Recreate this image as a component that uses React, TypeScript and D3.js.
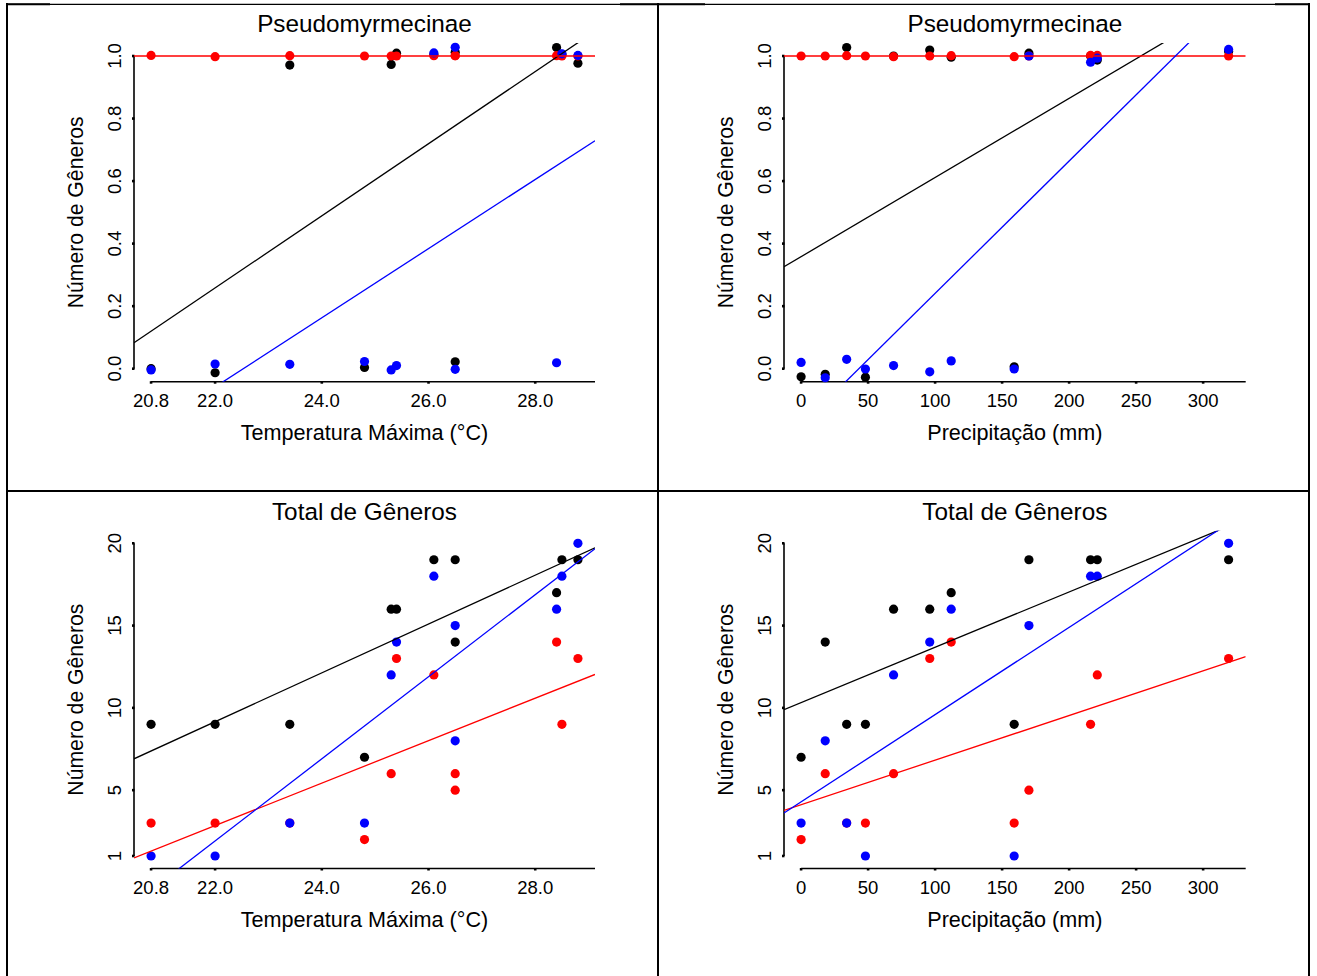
import React from "react";
import * as d3 from "d3";

// ---- data ----
const TEMP = [20.8, 22.0, 23.4, 24.8, 25.3, 25.4, 26.1, 26.5, 26.5, 28.4, 28.5, 28.8];
const PRECIP = [0, 18, 34, 48, 69, 96, 112, 159, 170, 216, 221, 319];

// Pseudomyrmecinae presence (jittered as drawn)
const pseudoTempBlack = [0.0, -0.013, 0.971, 0.004, 0.973, 1.009, 1.005, 1.012, 0.022, 1.027, 1.005, 0.977];
const pseudoTempRed = [1.002, 0.998, 1.001, 1.0, 1.0, 1.0, 1.001, 1.001, 1.001, 1.001, 1.0, 1.0];
const pseudoTempBlue = [-0.004, 0.015, 0.014, 0.023, -0.004, 0.01, 1.01, 1.028, -0.002, 0.019, 1.007, 1.002];

const pseudoPrecBlack = [-0.026, -0.018, 1.027, -0.027, 1.0, 1.019, 0.996, 0.006, 1.009, 1.0, 0.987, 1.015];
const pseudoPrecRed = [1.0, 1.0, 1.001, 1.0, 0.998, 1.0, 1.001, 0.998, 1.0, 1.002, 1.002, 1.0];
const pseudoPrecBlue = [0.02, -0.029, 0.03, -0.001, 0.01, -0.01, 0.025, -0.001, 1.0, 0.98, 0.993, 1.021];

// Total de Gêneros
const totalTempBlack = [9, 9, 9, 7, 16, 16, 19, 19, 14, 17, 19, 19];
const totalTempRed = [3, 3, 3, 2, 6, 13, 12, 5, 6, 14, 9, 13];
const totalTempBlue = [1, 1, 3, 3, 12, 14, 18, 15, 8, 16, 18, 20];

const totalPrecBlack = [7, 14, 9, 9, 16, 16, 17, 9, 19, 19, 19, 19];
const totalPrecRed = [2, 6, 3, 3, 6, 13, 14, 3, 5, 9, 12, 13];
const totalPrecBlue = [3, 8, 3, 1, 12, 14, 16, 1, 15, 18, 18, 20];

// ticks
const tempTicks = [20.8, 22.0, 24.0, 26.0, 28.0];
const tempTickLabels = ["20.8", "22.0", "24.0", "26.0", "28.0"];
const precTicks = [0, 50, 100, 150, 200, 250, 300];
const precTickLabels = ["0", "50", "100", "150", "200", "250", "300"];
const pseudoTicks = [0, 0.2, 0.4, 0.6, 0.8, 1.0];
const pseudoTickLabels = ["0.0", "0.2", "0.4", "0.6", "0.8", "1.0"];
const totalTicks = [1, 5, 10, 15, 20];
const totalTickLabels = ["1", "5", "10", "15", "20"];

const TITLES = ["Pseudomyrmecinae", "Pseudomyrmecinae", "Total de Gêneros", "Total de Gêneros"];
const XLABELS = ["Temperatura Máxima (°C)", "Precipitação (mm)"];
const YLABEL = "Número de Gêneros";

const COLORS = { black: "#000000", red: "#FF0000", blue: "#0000FF" };
const FONT = "'Liberation Sans', Arial, Helvetica, sans-serif";

function lm(x: number[], y: number[]) {
  const mx = d3.mean(x)!;
  const my = d3.mean(y)!;
  let sxy = 0, sxx = 0;
  x.forEach((v, i) => {
    sxy += (v - mx) * (y[i] - my);
    sxx += (v - mx) * (v - mx);
  });
  const b = sxx === 0 ? 0 : sxy / sxx;
  return { a: my - b * mx, b };
}

type Series = { color: string; y: number[] };
type PanelDef = {
  id: string;
  left: number; top: number; width: number; height: number;
  title: string; xlabel: string;
  x: number[]; xdom: [number, number]; xticks: number[]; xlabels: string[];
  ydom: [number, number]; yticks: number[]; ylabels: string[];
  series: Series[];
  roundForFit: boolean;
};

const PANELS: PanelDef[] = [
  {
    id: "p1", left: 134, top: 43, width: 461, height: 338.7,
    title: TITLES[0], xlabel: XLABELS[0],
    x: TEMP, xdom: [20.48, 29.12], xticks: tempTicks, xlabels: tempTickLabels,
    ydom: [-0.0416, 1.0416], yticks: pseudoTicks, ylabels: pseudoTickLabels,
    series: [
      { color: COLORS.black, y: pseudoTempBlack },
      { color: COLORS.red, y: pseudoTempRed },
      { color: COLORS.blue, y: pseudoTempBlue },
    ],
    roundForFit: true,
  },
  {
    id: "p2", left: 784, top: 43, width: 461.7, height: 338.7,
    title: TITLES[1], xlabel: XLABELS[1],
    x: PRECIP, xdom: [-12.76, 331.76], xticks: precTicks, xlabels: precTickLabels,
    ydom: [-0.0416, 1.0416], yticks: pseudoTicks, ylabels: pseudoTickLabels,
    series: [
      { color: COLORS.black, y: pseudoPrecBlack },
      { color: COLORS.red, y: pseudoPrecRed },
      { color: COLORS.blue, y: pseudoPrecBlue },
    ],
    roundForFit: true,
  },
  {
    id: "p3", left: 134, top: 530.8, width: 461, height: 337.7,
    title: TITLES[2], xlabel: XLABELS[0],
    x: TEMP, xdom: [20.48, 29.12], xticks: tempTicks, xlabels: tempTickLabels,
    ydom: [0.24, 20.76], yticks: totalTicks, ylabels: totalTickLabels,
    series: [
      { color: COLORS.black, y: totalTempBlack },
      { color: COLORS.red, y: totalTempRed },
      { color: COLORS.blue, y: totalTempBlue },
    ],
    roundForFit: false,
  },
  {
    id: "p4", left: 784, top: 530.8, width: 461.7, height: 337.7,
    title: TITLES[3], xlabel: XLABELS[1],
    x: PRECIP, xdom: [-12.76, 331.76], xticks: precTicks, xlabels: precTickLabels,
    ydom: [0.24, 20.76], yticks: totalTicks, ylabels: totalTickLabels,
    series: [
      { color: COLORS.black, y: totalPrecBlack },
      { color: COLORS.red, y: totalPrecRed },
      { color: COLORS.blue, y: totalPrecBlue },
    ],
    roundForFit: false,
  },
];

function Panel({ p }: { p: PanelDef }) {
  const xs = d3.scaleLinear().domain(p.xdom).range([p.left, p.left + p.width]);
  const ys = d3.scaleLinear().domain(p.ydom).range([p.top + p.height, p.top]);
  const axisY = p.top + p.height;
  const axisX = p.left;
  const cx = p.left + p.width / 2;
  const cy = p.top + p.height / 2;
  return (
    <g>
      <defs>
        <clipPath id={"clip-" + p.id}>
          <rect x={p.left} y={p.top} width={p.width} height={p.height} />
        </clipPath>
      </defs>
      {/* title */}
      <text x={cx} y={p.top - 11} textAnchor="middle" fontSize={24.3} fontFamily={FONT} fill="#000">
        {p.title}
      </text>
      {/* x axis */}
      <line x1={xs(p.xticks[0])} x2={p.left + p.width} y1={axisY} y2={axisY} stroke="#000" strokeWidth={1.6} />
      {p.xticks.map((t, i) => (
        <g key={"xt" + i}>
          <line x1={xs(t)} x2={xs(t)} y1={axisY - 0.5} y2={axisY + 2} stroke="#000" strokeWidth={2.6} />
          <text x={xs(t)} y={axisY + 25.5} textAnchor="middle" fontSize={18.5} fontFamily={FONT} fill="#000">
            {p.xlabels[i]}
          </text>
        </g>
      ))}
      <text x={cx} y={axisY + 58} textAnchor="middle" fontSize={21.6} fontFamily={FONT} fill="#000">
        {p.xlabel}
      </text>
      {/* y axis */}
      <line x1={axisX} x2={axisX} y1={ys(p.yticks[0])} y2={ys(p.yticks[p.yticks.length - 1])} stroke="#000" strokeWidth={1.6} />
      {p.yticks.map((t, i) => (
        <g key={"yt" + i}>
          <line x1={axisX - 2} x2={axisX + 0.5} y1={ys(t)} y2={ys(t)} stroke="#000" strokeWidth={2.6} />
          <text
            transform={`translate(${axisX - 13.5},${ys(t)}) rotate(-90)`}
            textAnchor="middle" fontSize={18.5} fontFamily={FONT} fill="#000"
          >
            {p.ylabels[i]}
          </text>
        </g>
      ))}
      <text
        transform={`translate(${axisX - 51},${cy}) rotate(-90)`}
        textAnchor="middle" fontSize={21.2} fontFamily={FONT} fill="#000"
      >
        {YLABEL}
      </text>
      {/* points */}
      {p.series.map((s, si) =>
        s.y.map((v, i) => (
          <circle key={`pt${si}-${i}`} cx={xs(p.x[i])} cy={ys(v)} r={4.6} fill={s.color} />
        ))
      )}
      {/* regression lines */}
      <g clipPath={`url(#clip-${p.id})`}>
        {p.series.map((s, si) => {
          const yy = p.roundForFit ? s.y.map((v) => Math.round(v)) : s.y;
          const f = lm(p.x, yy);
          const xd = [p.xdom[0], p.xdom[1]];
          const path = d3.line<number>().x((x) => xs(x)).y((x) => ys(f.a + f.b * x))(xd);
          return <path key={"ln" + si} d={path || ""} stroke={s.color} strokeWidth={1.3} fill="none" />;
        })}
      </g>
    </g>
  );
}

export default function App() {
  return (
    <svg
      width={1317}
      height={976}
      viewBox="0 0 1317 976"
      style={{ position: "absolute", left: 0, top: 0, background: "#fff" }}
    >
      <rect x={0} y={0} width={1317} height={976} fill="#fff" />
      {/* table borders */}
      <g stroke="#000">
        <line x1={7} x2={7} y1={3} y2={976} strokeWidth={2} />
        <line x1={658} x2={658} y1={3} y2={976} strokeWidth={2} />
        <line x1={1309} x2={1309} y1={3} y2={976} strokeWidth={2} />
        <line x1={6} x2={1310} y1={4.3} y2={4.3} strokeWidth={1.3} />
        <line x1={6} x2={50} y1={4.3} y2={4.3} strokeWidth={2} />
        <line x1={620} x2={705} y1={4.3} y2={4.3} strokeWidth={2} />
        <line x1={1275} x2={1310} y1={4.3} y2={4.3} strokeWidth={2} />
        <line x1={6} x2={1310} y1={491} y2={491} strokeWidth={2} />
      </g>
      {PANELS.map((p) => (
        <Panel key={p.id} p={p} />
      ))}
    </svg>
  );
}
